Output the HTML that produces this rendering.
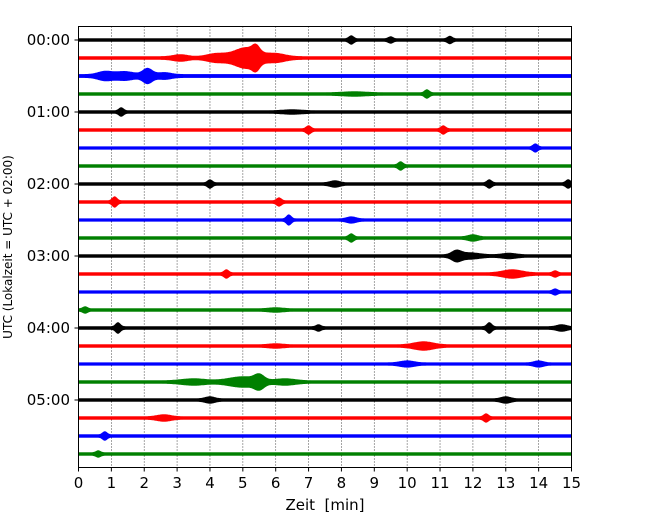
<!DOCTYPE html>
<html><head><meta charset="utf-8"><style>
body{margin:0;background:#fff}
svg{display:block;font-family:"DejaVu Sans","Liberation Sans",sans-serif}
</style></head><body>
<svg id="c" width="650" height="520" xmlns="http://www.w3.org/2000/svg">
<rect x="0" y="0" width="650" height="520" fill="#fff"/>
<g id="grid"></g>
<g id="traces"></g>
<rect x="78.5" y="26.5" width="493" height="441" fill="none" stroke="#000" stroke-width="1"/>
<g id="axes"></g>
<text x="325" y="510" font-size="15" text-anchor="middle" xml:space="preserve">Zeit  [min]</text>
<text transform="translate(12,247) rotate(-90)" font-size="12" text-anchor="middle">UTC (Lokalzeit = UTC + 02:00)</text>
</svg>
<script>
// Data
const xTicks=[0,1,2,3,4,5,6,7,8,9,10,11,12,13,14,15];
const yTickLabels=["00:00","01:00","02:00","03:00","04:00","05:00"];
const traceColors=["#000000","#ff0000","#0000ff","#008000"];
const baseNoise=[1.4,1.5,1.6,1.4,1.4,1.4,1.3,1.4,1.4,1.4,1.3,1.4,1.4,1.4,1.3,1.4,1.5,1.4,1.3,1.4,1.4,1.4,1.4,1.4];
// events per trace: [time_min, amplitude_px, width_min]
const traceEvents=[
 [[8.3,3,0.1],[9.5,2,0.1],[11.3,2.5,0.1]],
 [[3.1,2,0.3],[4.2,3,0.4],[5.1,9,0.5],[5.4,6,0.15],[6.0,3,0.4]],
 [[0.8,3,0.3],[1.4,3,0.4],[2.1,6,0.2],[2.6,2,0.3]],
 [[10.6,3,0.1],[8.4,1,0.5]],
 [[1.3,3,0.1],[6.5,1,0.4]],
 [[7.0,3,0.1],[11.1,3,0.1]],
 [[13.9,3,0.1]],
 [[9.8,3,0.1]],
 [[4.0,3,0.1],[7.8,2,0.2],[12.5,3,0.1],[14.9,3,0.1]],
 [[1.1,4,0.1],[6.1,3,0.1]],
 [[6.4,4,0.1],[8.3,2,0.2]],
 [[8.3,3,0.1],[12.0,2,0.2]],
 [[11.5,4,0.2],[11.9,2,0.4],[13.1,1.5,0.3]],
 [[4.5,3,0.1],[13.2,3,0.4],[14.5,2,0.1]],
 [[14.5,2,0.1]],
 [[0.2,2,0.1],[6.0,1,0.3]],
 [[1.2,4,0.1],[7.3,2,0.1],[12.5,4,0.1],[14.7,2,0.2]],
 [[10.5,3,0.4],[6.0,1,0.3]],
 [[10.0,2,0.3],[14.0,2,0.2]],
 [[3.5,2,0.5],[5.0,4,0.6],[5.5,5,0.2],[6.3,2,0.4]],
 [[4.0,2,0.2],[13.0,2,0.2]],
 [[2.6,2,0.3],[12.4,3,0.1]],
 [[0.8,3,0.1]],
 [[0.6,2,0.1]]
];
const NS="http://www.w3.org/2000/svg";
const X0=78.5,X1=571.5,Y0=40,DY=18;
const xs=t=>X0+(t-xTicks[0])/(xTicks[xTicks.length-1]-xTicks[0])*(X1-X0);
const ys=i=>Y0+i*DY;
function mk(tag,attrs,parent){const e=document.createElementNS(NS,tag);for(const k in attrs)e.setAttribute(k,attrs[k]);parent.appendChild(e);return e;}
const grid=document.getElementById('grid'),axes=document.getElementById('axes'),tr=document.getElementById('traces');
xTicks.forEach(t=>{
 if(t>0&&t<15){const l=mk('line',{x1:xs(t),x2:xs(t),y1:26.5,y2:467.5,stroke:'#000','stroke-width':0.7,'stroke-dasharray':'1,2'},grid);
 
 }
 const tk=mk('line',{x1:xs(t),x2:xs(t),y1:467.5,y2:471.5,stroke:'#000'},axes);
 
 
 const tx=mk('text',{x:xs(t),y:488,'font-size':15,'text-anchor':'middle'},axes);tx.textContent=t;
 
 
});
yTickLabels.forEach((s,k)=>{const y=ys(k*4);
 const tk=mk('line',{x1:74.5,x2:78.5,y1:y,y2:y,stroke:'#000'},axes);
 
 
 const tx=mk('text',{x:70,y:y+5,'font-size':15,'text-anchor':'end'},axes);tx.textContent=s;
 
 
});
traceEvents.forEach((ev,i)=>{
 const yc=ys(i),up=[],dn=[];
 for(let px=X0;px<=X1;px+=1){const t=(px-X0)/(X1-X0)*15;let a=baseNoise[i];
  ev.forEach(e=>{a+=e[1]*Math.exp(-Math.pow((t-e[0])/e[2],2));});
  up.push(px.toFixed(1)+','+(yc-a).toFixed(1));dn.unshift(px.toFixed(1)+','+(yc+a).toFixed(1));}
 const p=mk('polygon',{points:up.concat(dn).join(' '),fill:traceColors[i%4],stroke:traceColors[i%4],'stroke-width':0.6},tr);
 
 
});
</script>
</body></html>
